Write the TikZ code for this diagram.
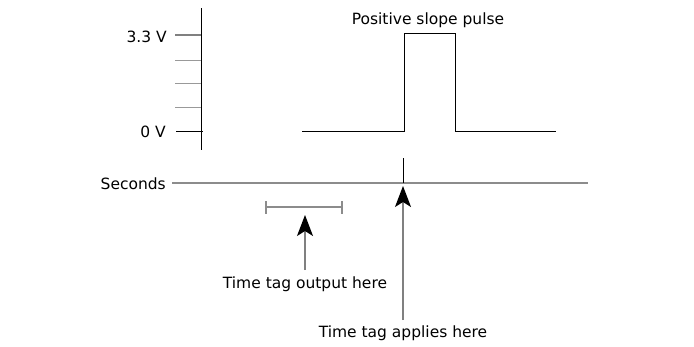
\documentclass[tikz,border=0pt]{standalone}
\usepackage{fontspec}
\setmainfont{DejaVu Sans}
\usetikzlibrary{arrows.meta}
\begin{document}
\begin{tikzpicture}[x=1pt,y=-1pt,>={Stealth[length=21pt,width=16pt,inset=5pt]},
  every node/.style={font=\fontsize{15.5}{17}\selectfont,inner sep=0pt},
  gridline/.style={draw=gray!90,line width=1.3pt},
  tickline/.style={draw=gray!80,line width=1pt},
  pointer/.style={draw=gray,line width=1.2pt,->,arrows={->[black]}}]
  \useasboundingbox (0,0) rectangle (694,346);
  \coordinate (Vtop) at (201,8);
  \coordinate (Vbot) at (201,150);
  \draw[line width=1pt] (Vtop)--(Vbot);
  \draw[gray,line width=2pt] (175,35)--(201,35);
  \foreach \y in {60,83,107} \draw[tickline] (175,\y)--(201,\y);
  \draw[line width=1pt] (176,131)--(203,131);
  \node[anchor=east] (hi) at (167,37) {3.3 V};
  \node[anchor=east] (lo) at (166,132) {0 V};
  \draw[line width=1pt] (302,131)--(404,131)--(404,33) -- (455,33)--(455,131)--(556,131);
  \node (pulse) at (428,20) {Positive slope pulse};
  \node[anchor=east] (sec) at (166,184) {Seconds};
  \draw[gridline] (172,183)--(588,183);
  \draw[line width=1pt] (403,158)--(403,183);
  \coordinate (A) at (403,186);
  \node (applies) at (403,333) {Time tag applies here};
  \draw[pointer] (403,320)--(A);
  \draw[gridline,line width=2pt] (266,207)--(342,207);
  \draw[gridline] (266,201)--(266,214);
  \draw[gridline] (342,201)--(342,214);
  \coordinate (B) at (305,215);
  \node (output) at (305,284) {Time tag output here};
  \draw[pointer] (305,270)--(B);
\end{tikzpicture}
\end{document}
